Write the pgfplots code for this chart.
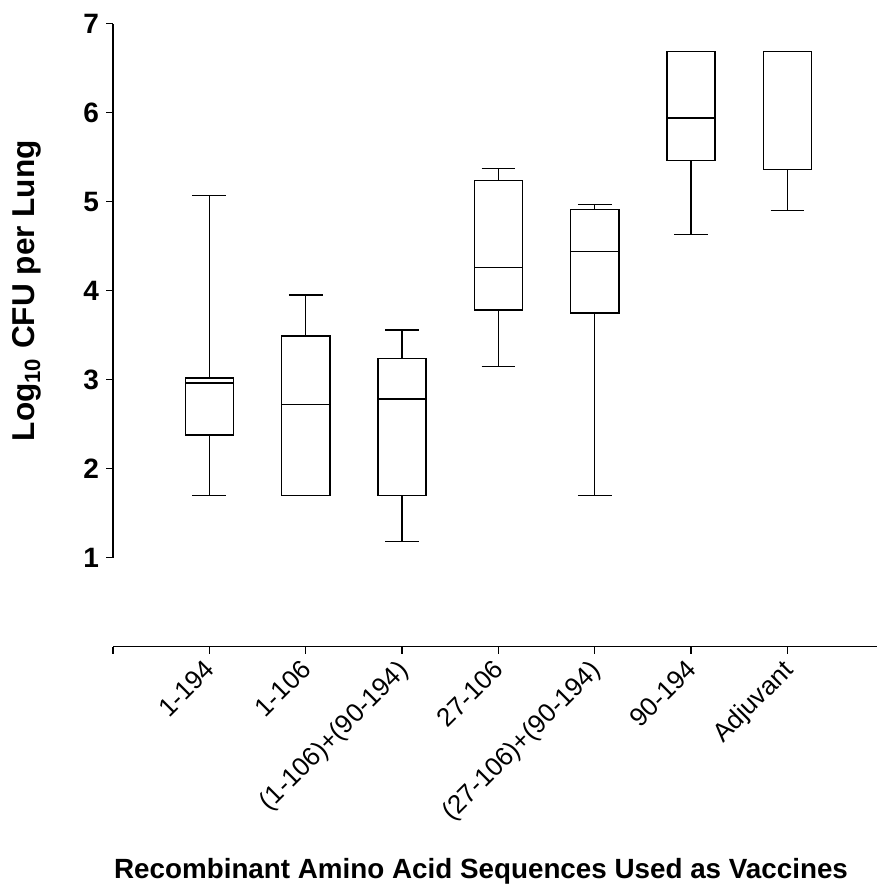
\documentclass[border=0pt]{standalone}
\usepackage{fontspec}
\setmainfont{Liberation Sans}
\usepackage{pgfplots}
\pgfplotsset{compat=1.18}
\usepgfplotslibrary{statistics}

\begin{document}
\begin{tikzpicture}
\begin{axis}[
    scale only axis,
    width=382pt, height=311.5pt,
    xmin=0, xmax=7.93, ymin=0, ymax=7,
    axis x line*=bottom, axis y line*=left,
    y axis line style={draw=none},
    x axis line style={line width=0.75pt},
    xtick={0,...,7},
    xticklabels={{},1-194,1-106,(1-106)+(90-194),27-106,(27-106)+(90-194),90-194,Adjuvant},
    ytick={1,...,7},
    tick align=outside,
    major tick length=3.5pt,
    tick style={black, line width=0.6pt},
    /pgf/number format/assume math mode=true,
    yticklabel style={font=\fontsize{14}{16}\selectfont\bfseries},
    xticklabel style={font=\fontsize{13}{15}\selectfont, xshift=-3pt,
        rotate=45, anchor=north east, inner sep=1.5pt},
    xlabel={Recombinant Amino Acid Sequences Used as Vaccines},
    ylabel={Log\textsubscript{10} CFU per Lung},
    xlabel style={font=\fontsize{13.9}{16}\selectfont\bfseries,
        at={(axis description cs:0.4817,-0.360)}, anchor=center},
    ylabel style={font=\fontsize{15.8}{18}\selectfont\bfseries,
        at={(axis description cs:-0.1126,0.5714)}, anchor=center},
    boxplot/draw direction=y,
    clip=false,
]
% y axis line only spans 1..7
\draw[line width=0.75pt] (axis cs:0,1) -- (axis cs:0,7);

\addplot[black, line width=0.75pt, boxplot prepared={draw position=1,
    lower whisker=1.70, lower quartile=2.38, median=2.96,
    upper quartile=3.02, upper whisker=5.07, box extend=0.5, whisker extend=0.35}]
    coordinates {};
\addplot[black, line width=0.75pt, boxplot prepared={draw position=2,
    lower whisker=1.70, lower quartile=1.70, median=2.72,
    upper quartile=3.49, upper whisker=3.95, box extend=0.5, whisker extend=0.35}]
    coordinates {};
\addplot[black, line width=0.75pt, boxplot prepared={draw position=3,
    lower whisker=1.18, lower quartile=1.70, median=2.78,
    upper quartile=3.24, upper whisker=3.56, box extend=0.5, whisker extend=0.35}]
    coordinates {};
\addplot[black, line width=0.75pt, boxplot prepared={draw position=4,
    lower whisker=3.15, lower quartile=3.78, median=4.26,
    upper quartile=5.24, upper whisker=5.37, box extend=0.5, whisker extend=0.35}]
    coordinates {};
\addplot[black, line width=0.75pt, boxplot prepared={draw position=5,
    lower whisker=1.70, lower quartile=3.75, median=4.44,
    upper quartile=4.91, upper whisker=4.97, box extend=0.5, whisker extend=0.35}]
    coordinates {};
\addplot[black, line width=0.75pt, boxplot prepared={draw position=6,
    lower whisker=4.63, lower quartile=5.46, median=5.94,
    upper quartile=6.69, upper whisker=6.69, box extend=0.5, whisker extend=0.35}]
    coordinates {};
\addplot[black, line width=0.75pt, boxplot prepared={draw position=7,
    lower whisker=4.90, lower quartile=5.36, median=6.69,
    upper quartile=6.69, upper whisker=6.69, box extend=0.5, whisker extend=0.35}]
    coordinates {};

\coordinate (bbl) at (axis cs:-1.173,-2.678);
\coordinate (btr) at (axis cs:7.93,7.266);
\end{axis}
\pgfresetboundingbox
\path[use as bounding box] (bbl) rectangle (btr);
\end{tikzpicture}
\end{document}
